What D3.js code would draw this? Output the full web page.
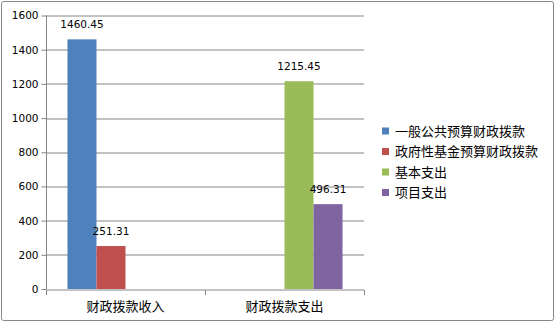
<!DOCTYPE html>
<html>
<head>
<meta charset="utf-8">
<script src="https://cdn.jsdelivr.net/npm/d3@7"></script>
<style>
  body { margin: 0; background: #fff; }
  svg text { fill: #000; }
</style>
</head>
<body>
<div id="chart"></div>
<script>
var categories = ["财政拨款收入", "财政拨款支出"];
var seriesNames = ["一般公共预算财政拨款", "政府性基金预算财政拨款", "基本支出", "项目支出"];
var seriesColors = ["#4F81BD", "#C0504D", "#9BBB59", "#8064A2"];
// one value per category, in category order
var generalBudget = [1460.45, 0];
var fundBudget = [251.31, 0];
var basicSpend = [0, 1215.45];
var projectSpend = [0, 496.31];
var yTicks = [0, 200, 400, 600, 800, 1000, 1200, 1400, 1600];

var seriesValues = [generalBudget, fundBudget, basicSpend, projectSpend];

var W = 555, H = 324;
var margin = {top: 15.5, right: 191, bottom: 35, left: 46};
var width = W - margin.left - margin.right,
    height = H - margin.top - margin.bottom;

var svg = d3.select("#chart").append("svg")
    .attr("width", W)
    .attr("height", H);

// outer frame
svg.append("rect")
    .attr("x", 1.5).attr("y", 1.5)
    .attr("width", W - 3).attr("height", H - 5)
    .attr("rx", 2)
    .attr("fill", "#fff")
    .attr("stroke", "#868686")
    .attr("stroke-width", 1);

var g = svg.append("g")
    .attr("transform", "translate(" + margin.left + "," + margin.top + ")");

var x0 = d3.scaleBand()
    .domain(categories)
    .range([0, width])
    .paddingInner(0)
    .paddingOuter(0);

var x1 = d3.scaleBand()
    .domain(d3.range(seriesNames.length))
    .range([0, x0.bandwidth()])
    .paddingOuter(0.74)
    .paddingInner(0);

var y = d3.scaleLinear()
    .domain([0, 1600])
    .range([height, 0]);

// gridlines
g.selectAll(".grid")
    .data(yTicks.slice(1))
    .enter().append("line")
    .attr("class", "grid")
    .attr("x1", 0).attr("x2", width)
    .attr("y1", function(d) { return Math.round(y(d)) + 0.5; })
    .attr("y2", function(d) { return Math.round(y(d)) + 0.5; })
    .attr("stroke", "#868686")
    .attr("stroke-width", 1);

// bars
var catGroups = g.selectAll(".cat")
    .data(categories)
    .enter().append("g")
    .attr("class", "cat")
    .attr("transform", function(d) { return "translate(" + x0(d) + ",0)"; });

catGroups.each(function(cat, ci) {
  var sel = d3.select(this);
  seriesValues.forEach(function(vals, si) {
    var v = vals[ci];
    if (!v) return;
    sel.append("rect")
        .attr("x", x1(si))
        .attr("width", x1.bandwidth())
        .attr("y", y(v))
        .attr("height", height - y(v))
        .attr("fill", seriesColors[si]);
    sel.append("text")
        .attr("x", x1(si) + x1.bandwidth() / 2)
        .attr("y", y(v) - 11)
        .attr("text-anchor", "middle")
        .style("font-family", "DejaVu Sans, Verdana, sans-serif")
        .style("font-size", "10.5px")
        .text(v.toFixed(2));
  });
});

// y axis
var yAxis = d3.axisLeft(y).tickValues(yTicks).tickFormat(d3.format("d")).tickSize(5).tickPadding(3);
var ya = g.append("g").attr("transform", "translate(0.5,0)").call(yAxis);
ya.select(".domain").attr("stroke", "#868686").attr("d", "M0," + height + "V0");
ya.selectAll(".tick line").attr("stroke", "#868686");
ya.selectAll(".tick text")
    .style("font-family", "DejaVu Sans, Verdana, sans-serif")
    .style("font-size", "10.5px")
    .attr("fill", "#000");

// x axis
var xa = g.append("g").attr("transform", "translate(0," + (Math.round(height) + 0.5) + ")");
xa.append("line")
    .attr("x1", 0).attr("x2", width)
    .attr("stroke", "#868686");
xa.selectAll(".xt")
    .data(d3.range(categories.length + 1))
    .enter().append("line")
    .attr("x1", function(i) { return Math.round(i * x0.step()) + 0.5; })
    .attr("x2", function(i) { return Math.round(i * x0.step()) + 0.5; })
    .attr("y1", 0).attr("y2", 5)
    .attr("stroke", "#868686");
xa.selectAll(".xl")
    .data(categories)
    .enter().append("text")
    .attr("x", function(d) { return x0(d) + x0.bandwidth() / 2; })
    .attr("y", 21)
    .attr("text-anchor", "middle")
    .style("font-family", "Noto Sans CJK SC, sans-serif")
    .style("font-size", "13px")
    .text(function(d) { return d; });

// legend
var legend = svg.append("g").attr("transform", "translate(382,131)");
var items = legend.selectAll(".item")
    .data(seriesNames)
    .enter().append("g")
    .attr("transform", function(d, i) { return "translate(0," + (i * 20.5) + ")"; });
items.append("rect")
    .attr("x", 0).attr("y", -3.5)
    .attr("width", 7).attr("height", 7)
    .attr("fill", function(d, i) { return seriesColors[i]; });
items.append("text")
    .attr("x", 13).attr("y", 0)
    .attr("dy", "0.36em")
    .style("font-family", "Noto Sans CJK SC, sans-serif")
    .style("font-size", "13px")
    .text(function(d) { return d; });
</script>
</body>
</html>
